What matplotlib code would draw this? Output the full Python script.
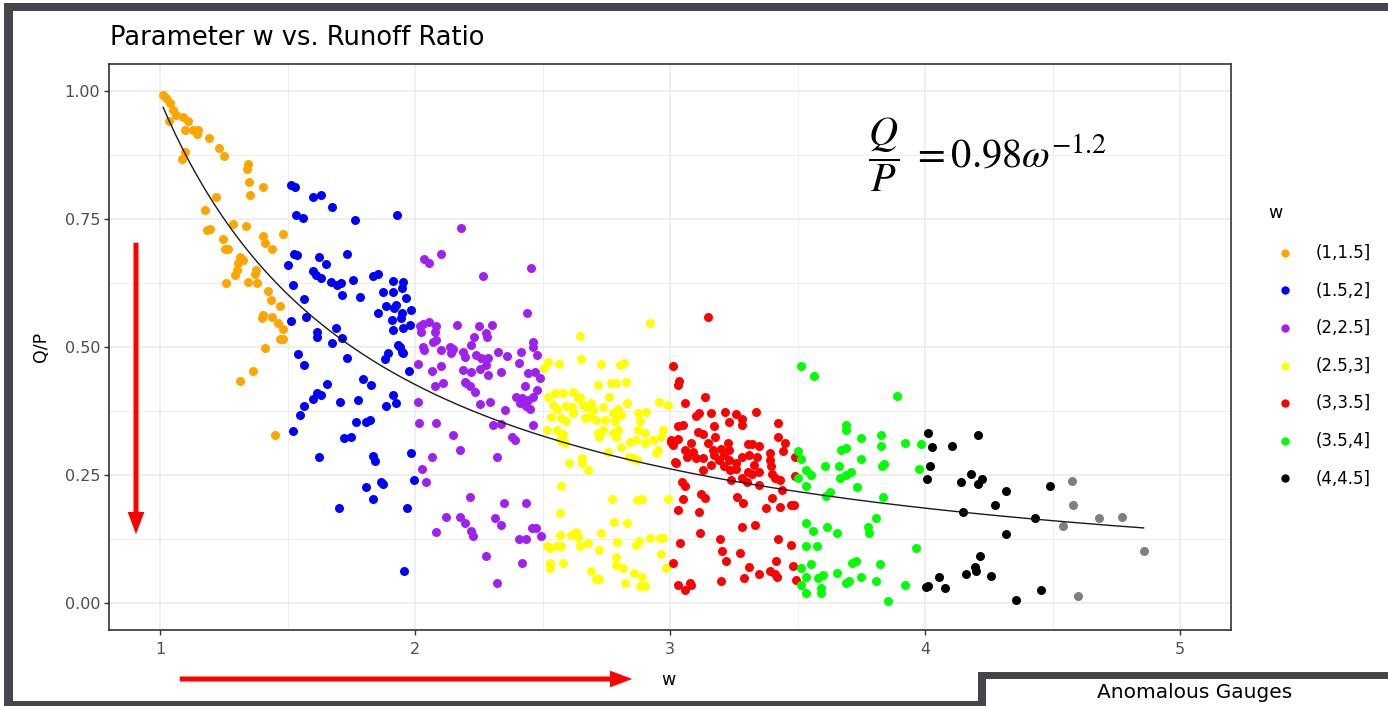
import matplotlib
matplotlib.use("Agg")
import matplotlib.pyplot as plt
import numpy as np
from matplotlib.patches import Rectangle, FancyArrowPatch
from matplotlib.lines import Line2D

# runoff ratio Q/P against w, grouped by w bin
orange = [(1.011, 0.992), (1.024, 0.985), (1.037, 0.975), (1.050, 0.962), (1.035, 0.940),
          (1.063, 0.953), (1.090, 0.949), (1.109, 0.940), (1.096, 0.923), (1.129, 0.923),
          (1.148, 0.923), (1.142, 0.915), (1.191, 0.907), (1.229, 0.889), (1.250, 0.873),
          (1.096, 0.881), (1.083, 0.866), (1.338, 0.848), (1.345, 0.857), (1.347, 0.822),
          (1.403, 0.813), (1.351, 0.796), (1.218, 0.792), (1.175, 0.767), (1.194, 0.731),
          (1.181, 0.728), (1.285, 0.739), (1.334, 0.736), (1.403, 0.717), (1.410, 0.703),
          (1.482, 0.720), (1.436, 0.691), (1.246, 0.710), (1.253, 0.691), (1.267, 0.691),
          (1.312, 0.676), (1.325, 0.670), (1.305, 0.663), (1.299, 0.650), (1.292, 0.640),
          (1.377, 0.650), (1.371, 0.642), (1.257, 0.624), (1.344, 0.627), (1.380, 0.624),
          (1.423, 0.610), (1.432, 0.592), (1.469, 0.579), (1.403, 0.562), (1.397, 0.556),
          (1.436, 0.559), (1.460, 0.547), (1.482, 0.536), (1.469, 0.515), (1.482, 0.515),
          (1.410, 0.499), (1.364, 0.453), (1.312, 0.434), (1.449, 0.328)]

blue = [(1.514, 0.816), (1.527, 0.812), (1.597, 0.793), (1.629, 0.797), (1.674, 0.774),
        (1.531, 0.758), (1.558, 0.751), (1.765, 0.748), (1.930, 0.758), (1.524, 0.681),
        (1.537, 0.679), (1.623, 0.675), (1.649, 0.662), (1.733, 0.681), (1.501, 0.659),
        (1.599, 0.649), (1.610, 0.640), (1.632, 0.634), (1.669, 0.627), (1.691, 0.621),
        (1.708, 0.624), (1.756, 0.631), (1.835, 0.639), (1.854, 0.642), (1.521, 0.620),
        (1.714, 0.601), (1.782, 0.598), (1.564, 0.594), (1.913, 0.629), (1.950, 0.627),
        (1.946, 0.615), (1.874, 0.608), (1.913, 0.608), (1.963, 0.595), (1.887, 0.580),
        (1.926, 0.582), (1.916, 0.577), (1.946, 0.566), (1.985, 0.572), (1.854, 0.566),
        (1.907, 0.553), (1.944, 0.556), (1.978, 0.543), (1.950, 0.538), (1.913, 0.534),
        (1.514, 0.551), (1.573, 0.559), (1.616, 0.530), (1.688, 0.538), (1.616, 0.520),
        (1.672, 0.508), (1.712, 0.518), (1.540, 0.486), (1.733, 0.479), (1.894, 0.488),
        (1.933, 0.504), (1.946, 0.491), (1.564, 0.464), (1.880, 0.476), (1.976, 0.453),
        (1.655, 0.428), (1.795, 0.438), (1.828, 0.425), (1.616, 0.410), (1.632, 0.406),
        (1.597, 0.399), (1.564, 0.384), (1.547, 0.367), (1.705, 0.393), (1.777, 0.396),
        (1.913, 0.406), (1.926, 0.390), (1.887, 0.384), (1.769, 0.354), (1.808, 0.354),
        (1.821, 0.357), (1.521, 0.336), (1.720, 0.322), (1.746, 0.325), (1.623, 0.285),
        (1.835, 0.288), (1.841, 0.278), (1.982, 0.294), (1.996, 0.241), (1.808, 0.227),
        (1.867, 0.237), (1.874, 0.232), (1.835, 0.204), (1.700, 0.185), (1.969, 0.185),
        (1.956, 0.064), (1.939, 0.500), (1.952, 0.488)]

purple = [(2.181, 0.732), (2.033, 0.671), (2.054, 0.664), (2.099, 0.681), (2.266, 0.639),
          (2.454, 0.655), (2.440, 0.566), (2.018, 0.540), (2.030, 0.545), (2.055, 0.548),
          (2.024, 0.530), (2.083, 0.540), (2.077, 0.530), (2.164, 0.543), (2.249, 0.540),
          (2.299, 0.543), (2.277, 0.527), (2.282, 0.520), (2.229, 0.520), (2.220, 0.504),
          (2.070, 0.510), (2.083, 0.513), (2.031, 0.500), (2.036, 0.494), (2.099, 0.494),
          (2.135, 0.500), (2.148, 0.497), (2.142, 0.488), (2.188, 0.491), (2.194, 0.481),
          (2.240, 0.484), (2.258, 0.478), (2.284, 0.478), (2.325, 0.491), (2.358, 0.482),
          (2.413, 0.491), (2.460, 0.510), (2.460, 0.500), (2.476, 0.484), (2.011, 0.467),
          (2.100, 0.462), (2.067, 0.453), (2.188, 0.455), (2.220, 0.452), (2.253, 0.458),
          (2.279, 0.464), (2.284, 0.446), (2.338, 0.452), (2.407, 0.468), (2.442, 0.449),
          (2.468, 0.452), (2.488, 0.439), (2.109, 0.429), (2.077, 0.423), (2.194, 0.432),
          (2.214, 0.423), (2.234, 0.413), (2.200, 0.430), (2.430, 0.423), (2.476, 0.416),
          (2.462, 0.403), (2.397, 0.403), (2.417, 0.400), (2.442, 0.397), (2.410, 0.390),
          (2.435, 0.385), (2.450, 0.380), (2.253, 0.389), (2.292, 0.393), (2.011, 0.393),
          (2.351, 0.377), (2.305, 0.348), (2.338, 0.350), (2.462, 0.348), (2.015, 0.352),
          (2.080, 0.352), (2.148, 0.328), (2.381, 0.324), (2.390, 0.318), (2.174, 0.300),
          (2.067, 0.285), (2.322, 0.285), (2.028, 0.262), (2.041, 0.237), (2.214, 0.207),
          (2.349, 0.195), (2.434, 0.195), (2.120, 0.168), (2.176, 0.169), (2.194, 0.157),
          (2.218, 0.142), (2.227, 0.131), (2.313, 0.166), (2.338, 0.153), (2.080, 0.140),
          (2.456, 0.147), (2.475, 0.147), (2.492, 0.131), (2.408, 0.125), (2.436, 0.125),
          (2.279, 0.093), (2.420, 0.079), (2.319, 0.039)]

yellow = [(2.922, 0.546), (2.645, 0.521), (2.652, 0.476), (2.521, 0.471), (2.506, 0.460),
          (2.563, 0.467), (2.728, 0.467), (2.802, 0.464), (2.818, 0.468), (2.717, 0.426),
          (2.766, 0.429), (2.787, 0.429), (2.826, 0.432), (2.760, 0.403), (2.547, 0.410),
          (2.520, 0.403), (2.580, 0.410), (2.619, 0.413), (2.645, 0.403), (2.638, 0.400),
          (2.958, 0.393), (2.990, 0.387), (2.832, 0.390), (2.540, 0.387), (2.554, 0.380),
          (2.592, 0.384), (2.615, 0.382), (2.657, 0.387), (2.671, 0.382), (2.690, 0.390),
          (2.697, 0.377), (2.736, 0.382), (2.775, 0.371), (2.795, 0.379), (2.808, 0.368),
          (2.874, 0.371), (2.904, 0.374), (2.534, 0.364), (2.573, 0.361), (2.592, 0.355),
          (2.619, 0.371), (2.664, 0.361), (2.683, 0.364), (2.710, 0.358), (2.743, 0.358),
          (2.782, 0.355), (2.880, 0.355), (2.515, 0.338), (2.554, 0.338), (2.580, 0.331),
          (2.717, 0.332), (2.736, 0.338), (2.775, 0.332), (2.795, 0.338), (2.874, 0.338),
          (2.900, 0.332), (2.972, 0.338), (2.720, 0.324), (2.786, 0.325), (2.841, 0.315),
          (2.867, 0.318), (2.900, 0.313), (2.932, 0.318), (2.965, 0.324), (2.567, 0.319),
          (2.586, 0.313), (2.806, 0.304), (2.757, 0.295), (2.946, 0.293), (2.952, 0.299),
          (2.854, 0.283), (2.840, 0.286), (2.870, 0.279), (2.602, 0.274), (2.655, 0.283),
          (2.655, 0.273), (2.677, 0.260), (2.573, 0.229), (2.773, 0.204), (2.870, 0.202),
          (2.890, 0.204), (2.993, 0.204), (2.568, 0.176), (2.780, 0.159), (2.832, 0.156),
          (2.568, 0.133), (2.612, 0.133), (2.632, 0.139), (2.640, 0.130), (2.678, 0.117),
          (2.727, 0.137), (2.791, 0.120), (2.877, 0.122), (2.864, 0.114), (2.922, 0.128),
          (2.959, 0.128), (2.970, 0.128), (2.515, 0.112), (2.530, 0.108), (2.555, 0.112),
          (2.570, 0.112), (2.645, 0.112), (2.721, 0.105), (2.529, 0.078), (2.529, 0.068),
          (2.580, 0.079), (2.787, 0.090), (2.787, 0.075), (2.813, 0.069), (2.962, 0.096),
          (2.982, 0.069), (2.690, 0.063), (2.707, 0.047), (2.720, 0.047), (2.858, 0.060),
          (2.890, 0.052), (2.880, 0.034), (2.900, 0.034), (2.824, 0.039)]

red = [(3.148, 0.559), (3.011, 0.463), (3.035, 0.434), (3.030, 0.425), (3.057, 0.390),
       (3.136, 0.403), (3.113, 0.371), (3.100, 0.366), (3.159, 0.371), (3.214, 0.374),
       (3.260, 0.369), (3.280, 0.360), (3.335, 0.374), (3.231, 0.354), (3.283, 0.348),
       (3.423, 0.351), (3.030, 0.345), (3.050, 0.347), (3.110, 0.335), (3.130, 0.330),
       (3.170, 0.345), (3.175, 0.325), (3.423, 0.325), (3.449, 0.313), (3.003, 0.315),
       (3.010, 0.308), (3.030, 0.320), (3.083, 0.312), (3.057, 0.299), (3.090, 0.296),
       (3.148, 0.312), (3.166, 0.299), (3.201, 0.302), (3.227, 0.312), (3.230, 0.299),
       (3.305, 0.311), (3.320, 0.310), (3.350, 0.306), (3.443, 0.297), (3.024, 0.273),
       (3.065, 0.286), (3.100, 0.283), (3.130, 0.283), (3.170, 0.290), (3.190, 0.280),
       (3.210, 0.290), (3.230, 0.280), (3.260, 0.273), (3.280, 0.286), (3.310, 0.290),
       (3.340, 0.286), (3.390, 0.293), (3.390, 0.280), (3.488, 0.285), (3.160, 0.270),
       (3.210, 0.267), (3.235, 0.260), (3.260, 0.263), (3.305, 0.257), (3.320, 0.253),
       (3.330, 0.270), (3.350, 0.257), (3.128, 0.260), (3.396, 0.267), (3.400, 0.253),
       (3.488, 0.248), (3.240, 0.241), (3.280, 0.244), (3.300, 0.237), (3.350, 0.231),
       (3.410, 0.244), (3.430, 0.241), (3.048, 0.237), (3.057, 0.229), (3.440, 0.221),
       (3.122, 0.213), (3.135, 0.205), (3.050, 0.203), (3.262, 0.208), (3.287, 0.195),
       (3.400, 0.205), (3.374, 0.185), (3.430, 0.188), (3.475, 0.192), (3.486, 0.192),
       (3.030, 0.182), (3.112, 0.179), (3.283, 0.149), (3.333, 0.153), (3.116, 0.138),
       (3.197, 0.125), (3.423, 0.125), (3.037, 0.118), (3.475, 0.114), (3.202, 0.103),
       (3.275, 0.099), (3.220, 0.083), (3.416, 0.083), (3.011, 0.079), (3.482, 0.073),
       (3.309, 0.070), (3.390, 0.064), (3.410, 0.057), (3.349, 0.057), (3.420, 0.052),
       (3.288, 0.049), (3.198, 0.044), (3.077, 0.040), (3.080, 0.036), (3.030, 0.036),
       (3.057, 0.026), (3.495, 0.045), (3.005, 0.319), (3.010, 0.310), (3.020, 0.276)]

green = [(3.514, 0.463), (3.564, 0.444), (3.891, 0.405), (3.691, 0.348), (3.690, 0.338),
         (3.750, 0.323), (3.828, 0.328), (3.828, 0.307), (3.920, 0.313), (3.985, 0.310),
         (3.670, 0.300), (3.690, 0.303), (3.502, 0.298), (3.514, 0.281), (3.750, 0.281),
         (3.609, 0.268), (3.662, 0.268), (3.832, 0.268), (3.840, 0.272), (3.976, 0.262),
         (3.534, 0.260), (3.554, 0.250), (3.710, 0.257), (3.690, 0.250), (3.665, 0.245),
         (3.502, 0.245), (3.534, 0.229), (3.733, 0.226), (3.626, 0.218), (3.610, 0.210),
         (3.835, 0.208), (3.808, 0.166), (3.531, 0.156), (3.560, 0.142), (3.617, 0.149),
         (3.656, 0.137), (3.776, 0.149), (3.780, 0.137), (3.963, 0.108), (3.531, 0.112),
         (3.577, 0.112), (3.553, 0.077), (3.713, 0.079), (3.730, 0.082), (3.822, 0.077),
         (3.656, 0.060), (3.514, 0.068), (3.534, 0.051), (3.514, 0.036), (3.580, 0.049),
         (3.600, 0.055), (3.688, 0.039), (3.700, 0.044), (3.750, 0.051), (3.806, 0.044),
         (3.920, 0.036), (3.531, 0.020), (3.593, 0.029), (3.590, 0.021), (3.855, 0.005)]

black = [(4.011, 0.332), (4.028, 0.304), (4.021, 0.268), (4.007, 0.243), (4.105, 0.307),
         (4.207, 0.329), (4.181, 0.252), (4.142, 0.236), (4.207, 0.232), (4.225, 0.243),
         (4.318, 0.220), (4.491, 0.228), (4.273, 0.192), (4.148, 0.179), (4.433, 0.166),
         (4.318, 0.135), (4.214, 0.092), (4.195, 0.070), (4.200, 0.064), (4.162, 0.057),
         (4.260, 0.054), (4.054, 0.051), (4.003, 0.031), (4.010, 0.034), (4.079, 0.029),
         (4.453, 0.026), (4.356, 0.006)]

# w > 4.5, outside the legend bins (NA)
grey = [(4.576, 0.239), (4.581, 0.192), (4.542, 0.151), (4.684, 0.167), (4.773, 0.169),
        (4.857, 0.102), (4.601, 0.015)]

bin_labels = ["(1,1.5]", "(1.5,2]", "(2,2.5]", "(2.5,3]", "(3,3.5]", "(3.5,4]", "(4,4.5]"]
bin_colors = ["#FFA500", "#0000FF", "#A020F0", "#FFFF00", "#FF0000", "#00FF00", "#000000"]
groups = [orange, blue, purple, yellow, red, green, black]

fit_a = 0.98
fit_b = -1.2

W, H = 1388, 706
fig = plt.figure(figsize=(W / 100, H / 100), dpi=100)
fig.patch.set_facecolor("white")

def fx(px):
    return px / W

def fy(py):
    return 1 - py / H

ax = fig.add_axes([fx(109.4), fy(630), fx(1231) - fx(109.4), fy(64) - fy(630)])

for pts, col in zip(groups, bin_colors):
    arr = np.array(pts)
    ax.scatter(arr[:, 0], arr[:, 1], s=42, color=col, linewidths=0, zorder=3)
arr = np.array(grey)
ax.scatter(arr[:, 0], arr[:, 1], s=42, color="#7F7F7F", linewidths=0, zorder=3)

all_w = np.concatenate([np.array(g)[:, 0] for g in groups + [grey]])
wf = np.linspace(all_w.min(), all_w.max(), 300)
ax.plot(wf, fit_a * wf ** fit_b, color="#1a1a1a", lw=1.0, zorder=4)

ax.set_xlim(0.8, 5.2)
ax.set_ylim(-0.052, 1.052)
ax.set_xticks([1, 2, 3, 4, 5])
ax.set_xticklabels(["1", "2", "3", "4", "5"])
ax.set_yticks([0, 0.25, 0.5, 0.75, 1.0])
ax.set_yticklabels(["0.00", "0.25", "0.50", "0.75", "1.00"])
ax.set_xticks([1.5, 2.5, 3.5, 4.5], minor=True)
ax.set_yticks([0.125, 0.375, 0.625, 0.875], minor=True)
ax.grid(which="major", color="#EBEBEB", lw=1.1, zorder=0)
ax.grid(which="minor", color="#EBEBEB", lw=0.6, zorder=0)
ax.set_axisbelow(True)
ax.tick_params(which="minor", length=0)
ax.tick_params(which="major", length=3.5, width=1.0, color="#333333",
               labelcolor="#4D4D4D", labelsize=11.5)
ax.tick_params(axis="x", pad=5)
ax.tick_params(axis="y", pad=3)
for sp in ax.spines.values():
    sp.set_color("#333333")
    sp.set_linewidth(1.2)

fig.text(fx(110), fy(38), "Parameter w vs. Runoff Ratio", fontsize=18.5,
         ha="left", va="center", color="#000000")
fig.text(fx(41), fy(347), "Q/P", fontsize=12.5, rotation=90, ha="center", va="center")
fig.text(fx(668), fy(680), "w", fontsize=12.5, ha="center", va="center")

fig.text(fx(868), fy(155), r"$\dfrac{Q}{P}\ = 0.98\omega^{-1.2}$",
         fontsize=29, math_fontfamily="stix", ha="left", va="center")

# legend
fig.text(fx(1275), fy(213), "w", fontsize=12.5, ha="center", va="center")
for i, (lab, col) in enumerate(zip(bin_labels, bin_colors)):
    yy = fy(252.7 + 37.6 * i)
    fig.add_artist(Line2D([fx(1285)], [yy], marker="o", ls="", color=col,
                          markersize=6, markeredgewidth=0, transform=fig.transFigure))
    fig.text(fx(1316), yy, lab, fontsize=12, ha="left", va="center", color="#000000")

# red arrows
arrow_kw = dict(arrowstyle="simple,head_length=0.8,head_width=0.6,tail_width=0.18",
                mutation_scale=20, color="#FF0000", lw=0, transform=fig.transFigure)
fig.add_artist(FancyArrowPatch((fx(136), fy(240)), (fx(136), fy(537)), **arrow_kw))
fig.add_artist(FancyArrowPatch((fx(177), fy(679)), (fx(635), fy(679)), **arrow_kw))

# dark frames of the slide panels
frame = "#46454B"
def bar(x0, y0, x1, y1):
    fig.add_artist(Rectangle((fx(x0), fy(y1)), fx(x1) - fx(x0), fy(y0) - fy(y1),
                             transform=fig.transFigure, color=frame, lw=0, zorder=10))

bar(4, 3, W, 11)
bar(4, 3, 13, H)
bar(4, 701, 985, H)
fig.add_artist(Rectangle((fx(986), fy(H)), fx(W) - fx(986), fy(679) - fy(H),
                         transform=fig.transFigure, color="white", lw=0, zorder=9))
bar(978, 672, 986, H)
bar(978, 672, W, 679)
fig.text(fx(1195), fy(683), "Anomalous Gauges", fontsize=14.5, ha="center", va="top",
         zorder=11)

fig.savefig("out.png", dpi=100)
